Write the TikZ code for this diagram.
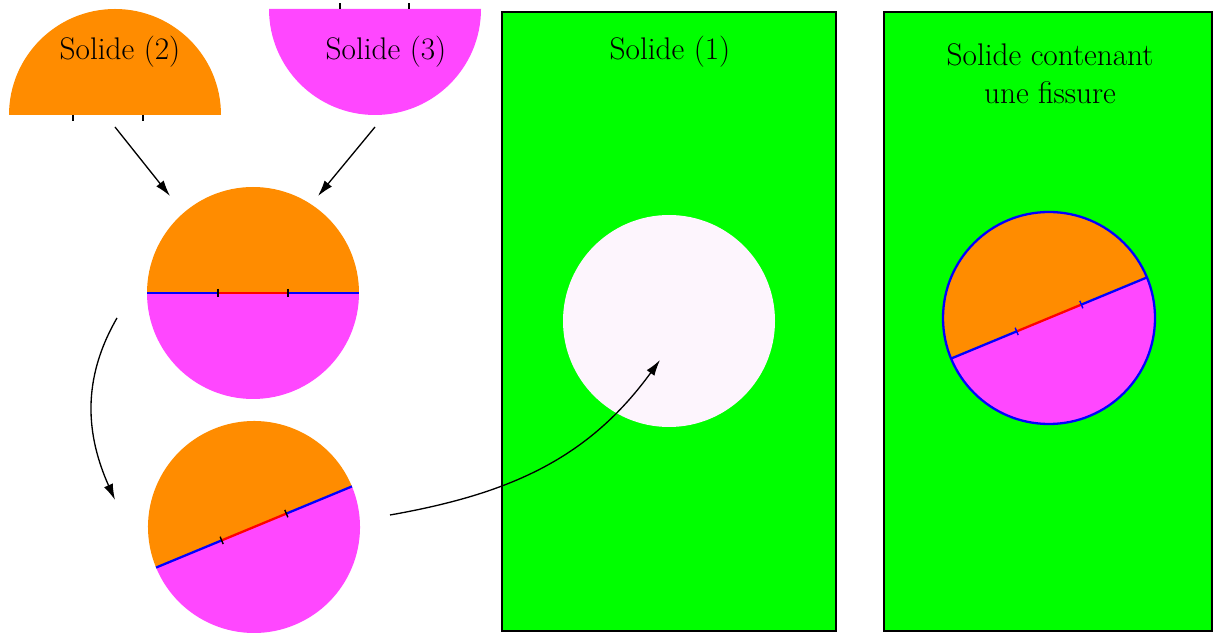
\documentclass[tikz,border=0pt]{standalone}
\usetikzlibrary{arrows.meta}
\definecolor{solorange}{HTML}{FF8C00}
\definecolor{solmagenta}{HTML}{FF47FF}
\definecolor{solgreen}{HTML}{00FF00}
\definecolor{holepink}{HTML}{FDF5FD}
\tikzset{
  >=Latex,
  label/.style={font=\fontsize{17.8}{21.5}\selectfont, align=center},
  solidbox/.style={fill=solgreen, draw=black, line width=0.8pt},
  edgeblue/.style={draw=blue, line width=1.3pt},
  fissred/.style={draw=red, line width=1.3pt},
  tickmark/.style={line width=0.8pt},
  flow/.style={-{Latex[length=3.2mm,width=1.9mm]}, line width=0.75pt}
}
% disc cut in two along a crack: name, centre, angle, tick colour
\newcommand{\splitdisc}[4]{
  \coordinate (#1) at (#2);
  \fill[solorange] (#1) ++(#3:106) arc[start angle=#3, end angle=#3+180, radius=106] -- cycle;
  \fill[solmagenta] (#1) ++(#3+180:106) arc[start angle=#3+180, end angle=#3+360, radius=106] -- cycle;
  \draw[edgeblue] (#1) ++(#3+180:106) -- ++(#3:71);
  \draw[fissred] (#1) ++(#3+180:35) -- ++(#3:70);
  \draw[edgeblue] (#1) ++(#3:35) -- ++(#3:71);
  \draw[tickmark, #4] (#1) ++(#3:35) ++(#3+90:4) -- ++(#3-90:8);
  \draw[tickmark, #4] (#1) ++(#3+180:35) ++(#3+90:4) -- ++(#3-90:8);
}

\begin{document}
\begin{tikzpicture}[x=0.02cm, y=0.02cm]
\useasboundingbox (0,0) rectangle (1213,632);

% the two halves
\fill[solorange] (221,517) arc[start angle=0, end angle=180, radius=106] -- cycle;
\draw[tickmark] (73,517) -- (73,511);
\draw[tickmark] (143,517) -- (143,511);
\node[label] (sol2) at (120,580) {Solide (2)};
\fill[solmagenta] (269,623) arc[start angle=180, end angle=360, radius=106] -- cycle;
\draw[tickmark] (340,623) -- (340,629);
\draw[tickmark] (409,623) -- (409,629);
\node[label] (sol3) at (386,580) {Solide (3)};

% glued disc, then turned
\splitdisc{disca}{253,339}{0}{black}
\splitdisc{discb}{254,105}{22.5}{black}

% solid (1) with its hole
\draw[solidbox] (502,1) rectangle (836,620);
\node[label] (sol1) at (670,580) {Solide (1)};
\fill[holepink] (669,311) circle[radius=106];

% cracked solid
\draw[solidbox] (884,1) rectangle (1212,620);
\node[label] (solf) at (1050,558) {Solide contenant\\une fissure};
\splitdisc{discc}{1049,314}{22.5}{blue}
\draw[edgeblue] (discc) circle[radius=106];

% connectors
\coordinate (s2out) at (115,505);
\coordinate (s3out) at (375,505);
\coordinate (aleft) at (170,436);
\coordinate (aright) at (318,436);
\coordinate (aout) at (117,314);
\coordinate (bin) at (115,132);
\coordinate (bout) at (390,117);
\coordinate (holein) at (660,272);
\draw[flow] (s2out) -- (aleft);
\draw[flow] (s3out) -- (aright);
\draw[flow] (aout) to[out=240, in=114] (bin);
\draw[flow] (bout) to[out=10, in=234] (holein);
\end{tikzpicture}
\end{document}
